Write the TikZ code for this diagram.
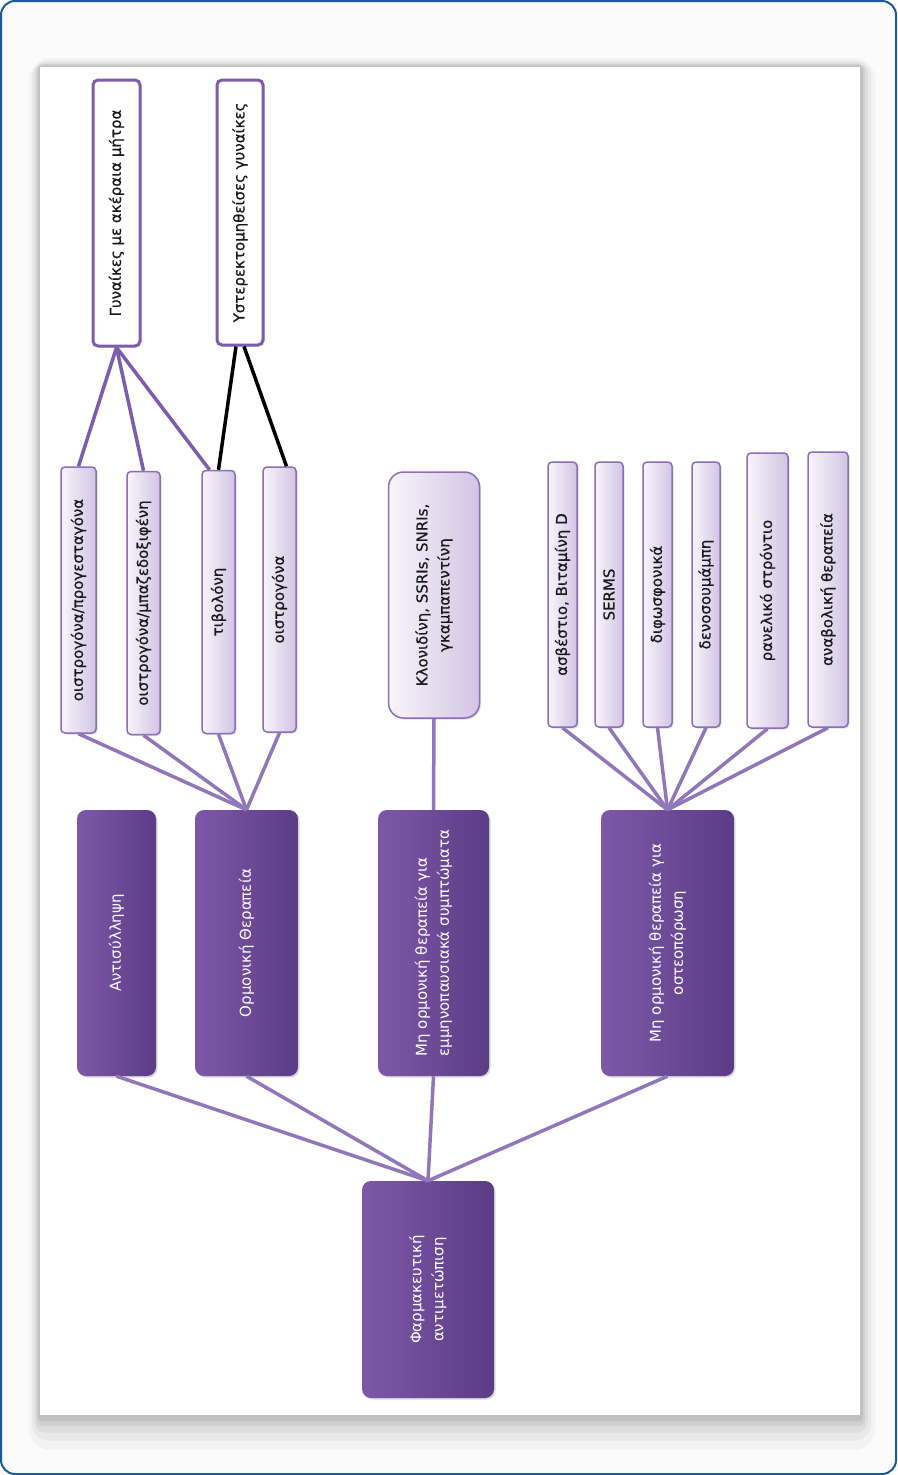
\documentclass[tikz,border=0pt]{standalone}
\usepackage{fontspec}
\setmainfont{DejaVu Sans}
\newfontface\medfont{DejaVu Sans}[FakeBold=0.6]
\usetikzlibrary{shadows,calc}
\definecolor{dpA}{HTML}{7E58A8}
\definecolor{dpB}{HTML}{5B3C85}
\definecolor{lpA}{HTML}{F8F5FB}
\definecolor{lpB}{HTML}{D2C4E4}
\definecolor{lpBorder}{HTML}{8C6DB6}
\definecolor{wBorder}{HTML}{7D5CAD}
\definecolor{lineP}{HTML}{9077BA}
\definecolor{frameBlue}{HTML}{1B5A99}
\tikzset{
  txt/.style={font=\fontsize{15}{22}\selectfont},
  txtm/.style={font=\medfont\fontsize{15}{22}\selectfont},
  darkbox/.style={rotate=90, rounded corners=9pt, left color=dpA, right color=dpB, draw=none,
    text=white, txt, inner sep=0pt, align=center,
    drop shadow={opacity=0.3, shadow xshift=1.5pt, shadow yshift=-1.5pt}},
  lightbox/.style={rotate=90, rounded corners=4pt, left color=lpA, right color=lpB, draw=lpBorder,
    line width=1.5pt, text=black!90, txtm, inner sep=0pt, align=center,
    drop shadow={opacity=0.25, shadow xshift=1.5pt, shadow yshift=-1.5pt}},
  whitebox/.style={rotate=90, rounded corners=5pt, fill=white, draw=wBorder, line width=3pt,
    text=black!90, txtm, inner sep=0pt, align=center,
    drop shadow={opacity=0.25, shadow xshift=1.5pt, shadow yshift=-1.5pt}},
  conn/.style={draw=lineP, line width=3.5pt},
  connD/.style={draw=wBorder, line width=3.5pt},
  blk/.style={draw=black, line width=3.5pt},
  sz/.style 2 args={minimum width=#1pt, minimum height=#2pt}
}
\begin{document}
\begin{tikzpicture}[x=1pt,y=-1pt]
\useasboundingbox (0,0) rectangle (897,1475);
% background frame
\draw[frameBlue, line width=2pt, rounded corners=14pt, fill=gray!3] (1,1) rectangle (896,1474);
% panel shadow
\foreach \d/\o in {22/0.03,16/0.04,11/0.05,7/0.06,4/0.07}{
  \fill[black, opacity=\o, rounded corners=\d pt] (40-\d*0.5,67-\d*0.4) rectangle (860+\d*0.7,1415+\d*1.6);
}
\fill[white] (40,67) rectangle (860,1415);

% root
\node[darkbox, sz={217}{132}] (root) at (428,1289.5) {Φαρμακευτική\\αντιμετώπιση};
% level 1
\node[darkbox, sz={266}{79}] (n1) at (116.5,943) {Αντισύλληψη};
\node[darkbox, sz={266}{103}] (n2) at (246.5,943) {Ορμονική Θεραπεία};
\node[darkbox, sz={266}{111}, align=left] (n3) at (433.5,943) {Μη ορμονική θεραπεία για\\εμμηνοπαυσιακά συμπτώματα};
\node[darkbox, sz={266}{133}] (n4) at (667.5,943) {Μη ορμονική θεραπεία για\\οστεοπόρωση};
% hormonal children
\node[lightbox, sz={266}{35}] (h1) at (78.5,600) {οιστρογόνα/προγεσταγόνα};
\node[lightbox, sz={263}{33}] (h2) at (143.5,603) {οιστρογόνα/μπαζεδοξιφένη};
\node[lightbox, sz={263}{33}] (h3) at (218.5,602) {τιβολόνη};
\node[lightbox, sz={265}{33}] (h4) at (279.5,599.5) {οιστρογόνα};
% groups
\node[whitebox, sz={266}{47}] (g1) at (116.5,213) {Γυναίκες με ακέραια μήτρα};
\node[whitebox, sz={265}{46}] (g2) at (240,212.5) {Υστερεκτομηθείσες γυναίκες};
% menopausal child
\node[lightbox, rounded corners=15pt, sz={246}{91}] (m1) at (434,595) {Κλονιδίνη, SSRIs, SNRIs,\\γκαμπαπεντίνη};
% osteoporosis children
\node[lightbox, sz={265}{29}] (o1) at (562.5,594.5) {ασβέστιο, Βιταμίνη D};
\node[lightbox, sz={265}{28}] (o2) at (609,594.5) {SERMS};
\node[lightbox, sz={265}{29}] (o3) at (657.5,594.5) {διφωσφονικά};
\node[lightbox, sz={265}{28}] (o4) at (706,594.5) {δενοσουμάμπη};
\node[lightbox, sz={275}{41}] (o5) at (767.5,590.5) {ρανελικό στρόντιο};
\node[lightbox, sz={275}{40}] (o6) at (828,589.5) {αναβολική θεραπεία};

% connectors root -> level 1
\foreach \n in {n1,n2,n3,n4}{ \draw[conn] (root.east) -- (\n.west); }
% hormonal
\foreach \n in {h1,h2,h3,h4}{ \draw[conn] (n2.east) -- (\n.west); }
% groups
\draw[connD] (g1.west) -- (h1.east);
\draw[connD] (g1.west) -- (h2.east);
\draw[connD] (g1.west) -- ($(h3.east)+(-9,0)$);
\draw[blk] ($(g2.west)+(-4,0)$) -- (h3.east);
\draw[blk] ($(g2.west)+(4,0)$) -- ($(h4.east)+(7,0)$);
% menopausal
\draw[conn] (n3.east) -- (m1.west);
% osteoporosis
\foreach \n in {o1,o2,o3,o4,o5,o6}{ \draw[conn] (n4.east) -- (\n.west); }
\end{tikzpicture}
\end{document}
